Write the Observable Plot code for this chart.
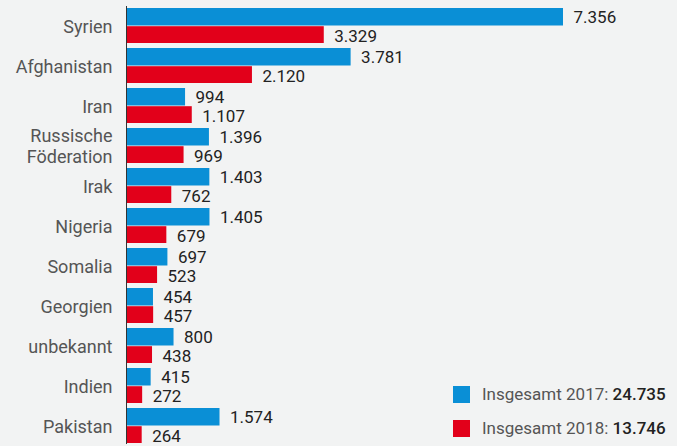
<!DOCTYPE html>
<html>
<head>
<meta charset="utf-8">
<script src="https://cdn.jsdelivr.net/npm/d3@7"></script>
<script src="https://cdn.jsdelivr.net/npm/@observablehq/plot@0.6"></script>
<style>
  body { margin: 0; background: #f2f3f3; font-family: Roboto, sans-serif; }
  #chart { position: relative; width: 677px; height: 446px; overflow: hidden; }
  #legend { position: absolute; left: 453px; top: 377px; font-size: 17px; color: #555; }
  #legend .row { display: flex; align-items: center; height: 34px; }
  #legend .sw { width: 17px; height: 17px; margin-right: 12px; }
  #legend b { color: #222; font-weight: 500; }
</style>
</head>
<body>
<div id="chart"></div>
<script>
const laender = ["Syrien", "Afghanistan", "Iran", "Russische\nFöderation", "Irak", "Nigeria",
  "Somalia", "Georgien", "unbekannt", "Indien", "Pakistan"];
const werte2017 = [7356, 3781, 994, 1396, 1403, 1405, 697, 454, 800, 415, 1574];
const werte2018 = [3329, 2120, 1107, 969, 762, 679, 523, 457, 438, 272, 264];
const summen = {"2017": 24735, "2018": 13746};

const blau = "#0a8fd6", rot = "#e2001a";
const de = d3.formatLocale({decimal: ",", thousands: ".", grouping: [3], currency: ["", " €"]});
const fmt = de.format(",d");

const d17 = laender.map((l, i) => ({land: l, wert: werte2017[i]}));
const d18 = laender.map((l, i) => ({land: l, wert: werte2018[i]}));

const half = 17.5;

let chart = Plot.plot({
  width: 677,
  height: 446,
  marginLeft: 126,
  marginRight: 114,
  marginTop: 6,
  marginBottom: 2,
  style: {background: "#f2f3f3", fontFamily: "Roboto, sans-serif"},
  x: {domain: [0, d3.max(werte2017)], axis: null},
  y: {domain: laender, padding: 0.132, paddingOuter: 0},
  axis: null,
  marks: [
    Plot.axisY({tickSize: 0, tickPadding: 14, fontSize: 18, color: "#555", label: null, lineHeight: 1.15}),
    Plot.barX(d17, {y: "land", x: "wert", fill: blau, insetBottom: half}),
    Plot.barX(d18, {y: "land", x: "wert", fill: rot, insetTop: half + 0.7}),
    Plot.text(d17, {y: "land", x: "wert", text: d => fmt(d.wert), dy: -half / 2 + 0.3, dx: 10,
      textAnchor: "start", fontSize: 17, fill: "#222", letterSpacing: -0.3}),
    Plot.text(d18, {y: "land", x: "wert", text: d => fmt(d.wert), dy: half / 2 + 1.7, dx: 10,
      textAnchor: "start", fontSize: 17, fill: "#222", letterSpacing: -0.3}),
    Plot.ruleX([0], {stroke: "#333", strokeWidth: 1})
  ]
});

d3.select("#chart").append(() => chart);

// Legende unten rechts
const legend = d3.select("#chart").append("div").attr("id", "legend");
[["2017", blau], ["2018", rot]].forEach(([jahr, farbe]) => {
  const row = legend.append("div").attr("class", "row");
  row.append("div").attr("class", "sw").style("background", farbe);
  row.append("span").html(`Insgesamt ${jahr}: <b>${fmt(summen[jahr])}</b>`);
});
</script>
</body>
</html>
